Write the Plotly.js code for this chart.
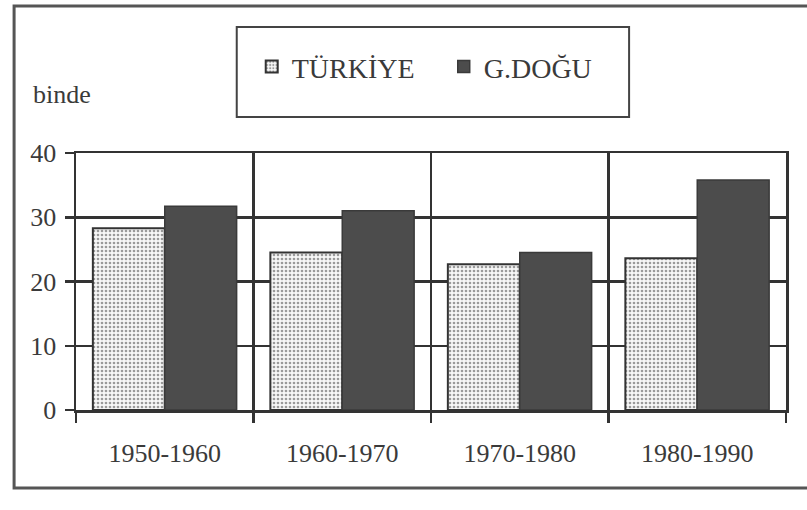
<!DOCTYPE html>
<html>
<head>
<meta charset="utf-8">
<script src="https://cdn.plot.ly/plotly-3.0.1.min.js"></script>
<style>html,body{margin:0;padding:0;background:#fff;}#chart{width:807px;height:510px;}</style>
</head>
<body>
<div id="chart"></div>
<script>
const categories = ["1950-1960", "1960-1970", "1970-1980", "1980-1990"];
const turkiye = [28.3, 24.5, 22.7, 23.6];
const gdogu = [31.7, 31.0, 24.5, 35.8];
const seriesNames = ["TÜRKİYE", "G.DOĞU"];
const yTicks = [0, 10, 20, 30, 40];
const unitLabel = "binde";

const serif = "'Liberation Serif', 'Times New Roman', Times, serif";
const ink = "#3a3a3a";
const lineInk = "#333333";

const traces = [
  {
    type: "bar", name: seriesNames[0], x: categories, y: turkiye,
    marker: {
      color: "#f3f3f3",
      line: {color: lineInk, width: 2},
      pattern: {shape: ".", bgcolor: "#f7f7f7", fgcolor: "#9a9a9a", size: 4, solidity: 0.35}
    }
  },
  {
    type: "bar", name: seriesNames[1], x: categories, y: gdogu,
    marker: {color: "#4c4c4c", line: {color: "#3a3a3a", width: 1.5}}
  }
];

const layout = {
  width: 807, height: 510,
  margin: {l: 76, r: 21, t: 153, b: 100},
  font: {family: serif, color: ink},
  paper_bgcolor: "#fff", plot_bgcolor: "#fff",
  barmode: "group", bargap: 0.19, bargroupgap: 0,
  showlegend: true,
  legend: {
    orientation: "h", x: 0.2475, xanchor: "left", y: 1.335, yanchor: "middle",
    font: {family: serif, size: 28, color: ink},
    bgcolor: "rgba(0,0,0,0)", borderwidth: 0, itemwidth: 30,
    entrywidth: 147, entrywidthmode: "pixels"
  },
  xaxis: {
    type: "category", tickson: "boundaries",
    showgrid: true, gridcolor: lineInk, gridwidth: 2.5,
    showline: true, linecolor: lineInk, linewidth: 2.5, mirror: true,
    ticks: "outside", ticklen: 10, tickwidth: 2.5, tickcolor: lineInk,
    ticklabelstandoff: 18,
    tickfont: {family: serif, size: 26, color: ink},
    fixedrange: true
  },
  yaxis: {
    range: [0, 40], tickvals: yTicks, ticktext: yTicks.map(String),
    showgrid: true, gridcolor: lineInk, gridwidth: 2.5, zeroline: false,
    showline: true, linecolor: lineInk, linewidth: 2.5, mirror: true,
    ticks: "outside", ticklen: 9, tickwidth: 2.5, tickcolor: lineInk,
    ticklabelstandoff: 3,
    tickfont: {family: serif, size: 26, color: ink},
    fixedrange: true
  },
  shapes: [
    {type: "rect", xref: "paper", yref: "paper", x0: 0.2264, x1: 0.779, y0: 1.140, y1: 1.490,
     line: {color: "#444", width: 2}, fillcolor: "rgba(0,0,0,0)"},
    {type: "rect", xref: "paper", yref: "paper", x0: -0.0872, x1: 1.06, y0: -0.3035, y1: 1.572,
     line: {color: "#555", width: 3}, fillcolor: "rgba(0,0,0,0)"}
  ],
  annotations: [
    {text: unitLabel, xref: "paper", yref: "paper", x: -0.0633, y: 1.2257,
     xanchor: "left", yanchor: "middle", showarrow: false,
     font: {family: serif, size: 26, color: ink}}
  ]
};

Plotly.newPlot("chart", traces, layout, {displayModeBar: false, staticPlot: true});
</script>
</body>
</html>
